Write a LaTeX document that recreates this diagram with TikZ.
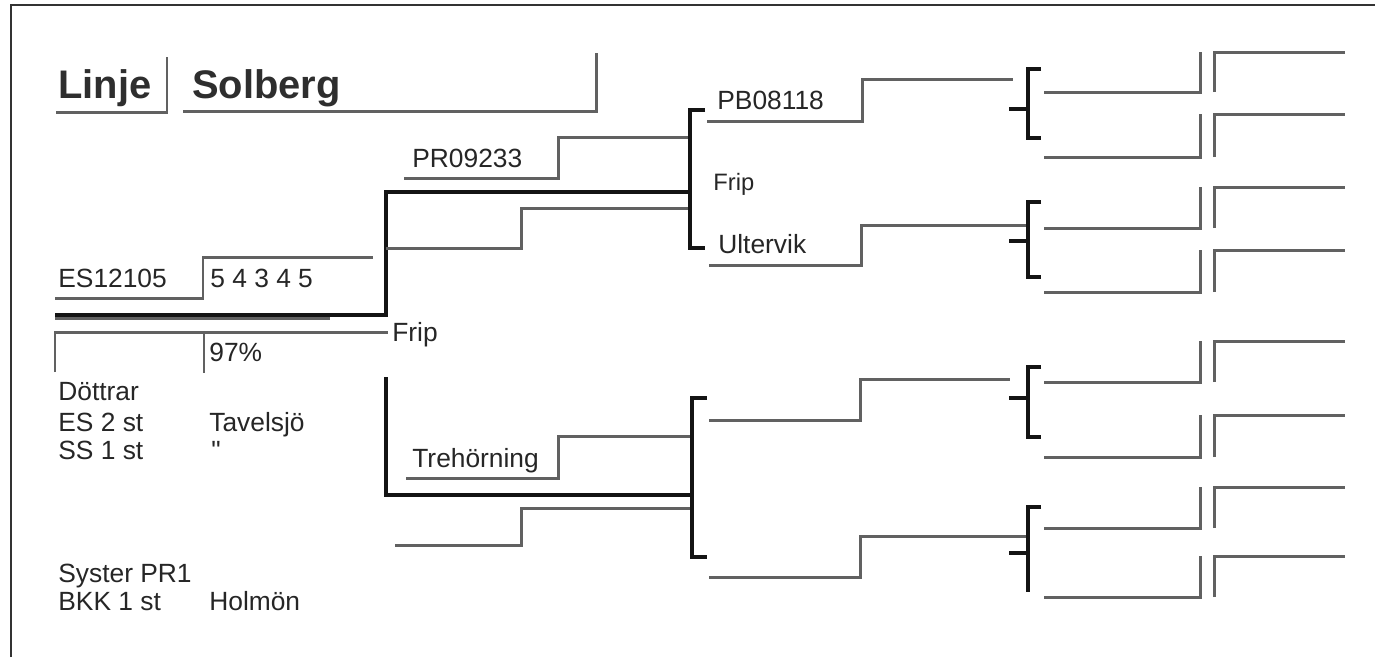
\documentclass[tikz,border=0pt]{standalone}
\usepackage{fontspec}
\setmainfont{Liberation Sans}
\newfontfamily\plainsans{Liberation Sans}
\begin{document}
\begin{tikzpicture}[x=0.02cm,y=-0.02cm,
  gl/.style={draw=black!62, line width=1.7pt, line join=miter},
  bk/.style={draw=black!92, line width=2.8pt, line join=miter},
  br/.style={draw=black!92, line width=2.4pt, line join=miter},
  fr/.style={draw=black!80, line width=1.1pt},
  txt/.style={anchor=base west, inner sep=0pt, font=\fontsize{15}{18}\selectfont, text=black!85},
  sml/.style={anchor=base west, inner sep=0pt, font=\fontsize{13.5}{16}\selectfont, text=black!85},
  ttl/.style={anchor=base west, inner sep=0pt, font=\fontsize{22.7}{26}\selectfont\bfseries, text=black!82}]
\useasboundingbox (0,0) rectangle (1375,657);
\fill[white] (0,0) rectangle (1375,657);
% frame
\draw[fr] (11,657) -- (11,5) -- (1375,5);
% title
\node[ttl] (linje) at (58,98) {Linje};
\node[ttl] (solberg) at (192,98) {Solberg};
\draw[gl] (56,112) -- (167,112) -- (167,57);
\draw[gl] (183,111) -- (596,111) -- (596,53);
% left generation
\node[txt] (es) at (58,287) {ES12105};
\draw[gl] (55,298) -- (203,298) -- (203,257) -- (373,257);
\node[txt] (score) at (210,287) {5 4 3 4 5};
\draw[gl] (55,318) -- (330,318);
\draw[bk] (690,192) -- (386,192) -- (386,315) -- (55,315);
\draw[gl] (55,372) -- (55,332) -- (388,332);
\draw[gl] (204,332) -- (204,373);
\node[txt] (pct) at (209,361) {97\%};
\node[txt] (frip1) at (392,341) {Frip};
\draw[bk] (386,377) -- (386,495) -- (690,495);
% left texts
\node[txt] (dot) at (58,400) {Döttrar};
\node[txt] (es2) at (58,431) {ES 2 st};
\node[txt] (tav) at (209,431) {Tavelsjö};
\node[txt] (ss1) at (58,459) {SS 1 st};
\node[txt] (dit) at (211,459) {\plainsans"};
\node[txt] (sys) at (58,582) {Syster PR1};
\node[txt] (bkk) at (58,610) {BKK 1 st};
\node[txt] (hol) at (209,610) {Holmön};
% second generation
\node[txt] (pr) at (412,167) {PR09233};
\draw[gl] (404,178) -- (558,178) -- (558,137) -- (690,137);
\draw[gl] (386,248) -- (521,248) -- (521,208) -- (690,208);
\node[txt] (tre) at (412,467) {Trehörning};
\draw[gl] (406,478) -- (558,478) -- (558,436) -- (690,436);
\draw[gl] (395,545) -- (521,545) -- (521,508) -- (690,508);
% middle brackets
\draw[br] (705,110) -- (690,110) -- (690,248) -- (705,248);
\draw[br] (707,398) -- (692,398) -- (692,557) -- (707,557);
\node[txt] (pb) at (717,109) {PB08118};
\draw[gl] (707,121) -- (862,121) -- (862,79) -- (1013,79);
\node[sml] (frip2) at (713,190) {Frip};
\node[txt] (ult) at (718,253) {Ultervik};
\draw[gl] (709,265) -- (861,265) -- (861,225) -- (1026,225);
\draw[gl] (709,420) -- (860,420) -- (860,379) -- (1010,379);
\draw[gl] (709,577) -- (860,577) -- (860,536) -- (1026,536);
% right groups
\foreach \t/\b/\k/\la/\lb/\ma/\mb/\bh in {69/138/109/92/52/157/114/1041,
  202/277/241/228/187/292/250/1041,
  367/437/398/382/341/457/415/1041,
  507/592/553/528/487/597/556/1028}{
  \draw[br] (1041,\t) -- (1028,\t) -- (1028,\b) -- (\bh,\b);
  \draw[br] (1009,\k) -- (1028,\k);
  \draw[gl] (1044,\la) -- (1200,\la) -- (1200,\lb);
  \draw[gl] (1044,\ma) -- (1200,\ma) -- (1200,\mb);
  \draw[gl] (1214,\la) -- (1214,\lb) -- (1345,\lb);
  \draw[gl] (1214,\ma) -- (1214,\mb) -- (1345,\mb);
}
\end{tikzpicture}
\end{document}
